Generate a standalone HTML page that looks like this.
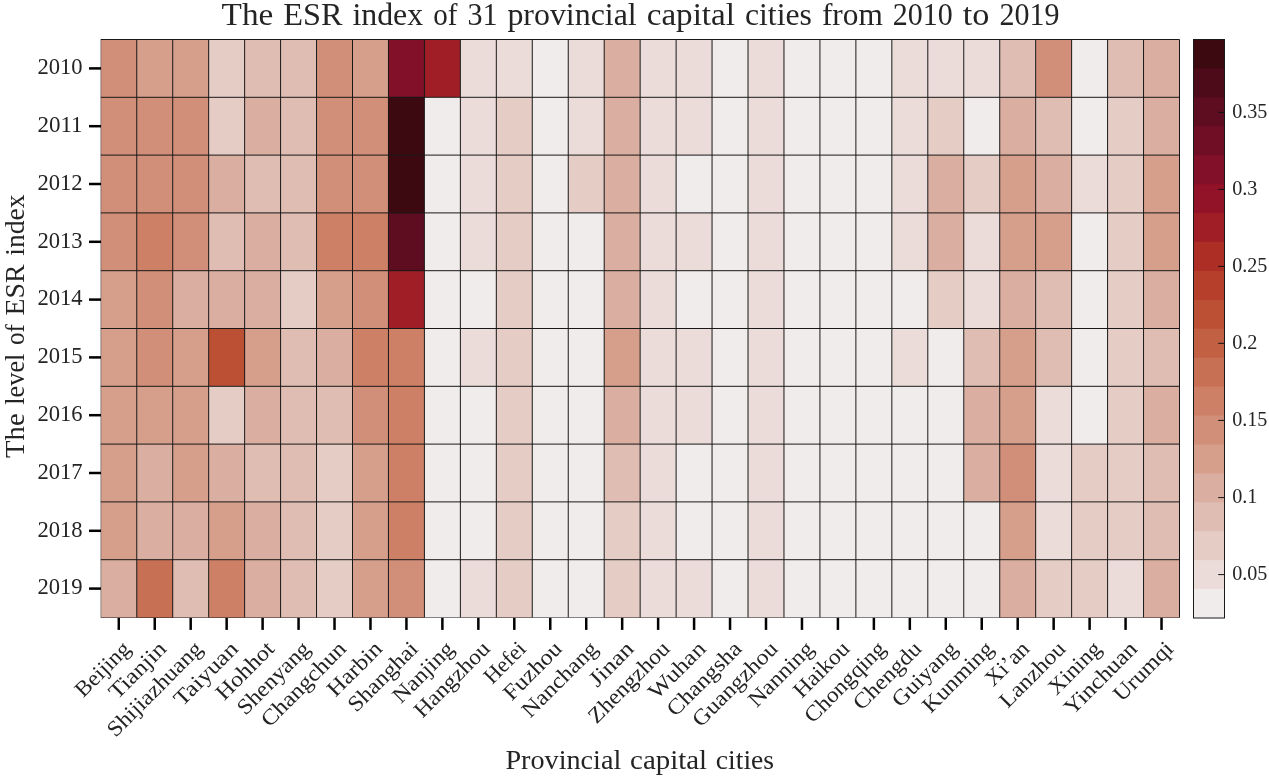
<!DOCTYPE html>
<html lang="en">
<head>
<meta charset="utf-8">
<title>The ESR index of 31 provincial capital cities from 2010 to 2019</title>
<style>
html,body{margin:0;padding:0;background:#fff;overflow:hidden}
svg{display:block;will-change:transform}
text{font-family:"Liberation Serif","DejaVu Serif",serif;fill:#242424}
</style>
</head>
<body>
<svg width="1269" height="777" viewBox="0 0 1269 777">
<rect width="1269" height="777" fill="#fff"/>
<text y="25" font-size="31"><tspan x="221.6" textLength="51.7" lengthAdjust="spacingAndGlyphs">The</tspan> <tspan x="283.3" textLength="59.2" lengthAdjust="spacingAndGlyphs">ESR</tspan> <tspan x="352.4" textLength="70.8" lengthAdjust="spacingAndGlyphs">index</tspan> <tspan x="433.3" textLength="24.2" lengthAdjust="spacingAndGlyphs">of</tspan> <tspan x="467.4" textLength="30.0" lengthAdjust="spacingAndGlyphs">31</tspan> <tspan x="507.4" textLength="129.3" lengthAdjust="spacingAndGlyphs">provincial</tspan> <tspan x="646.7" textLength="88.3" lengthAdjust="spacingAndGlyphs">capital</tspan> <tspan x="745.0" textLength="66.8" lengthAdjust="spacingAndGlyphs">cities</tspan> <tspan x="821.9" textLength="60.9" lengthAdjust="spacingAndGlyphs">from</tspan> <tspan x="892.8" textLength="60.0" lengthAdjust="spacingAndGlyphs">2010</tspan> <tspan x="962.8" textLength="26.7" lengthAdjust="spacingAndGlyphs">to</tspan> <tspan x="999.4" textLength="60.0" lengthAdjust="spacingAndGlyphs">2019</tspan></text>
<g shape-rendering="crispEdges">
<rect x="100.80" y="39.50" width="36.26" height="58.10" fill="#d18f79"/><rect x="136.76" y="39.50" width="36.26" height="58.10" fill="#d69f8c"/><rect x="172.71" y="39.50" width="36.26" height="58.10" fill="#d69f8c"/><rect x="208.67" y="39.50" width="36.26" height="58.10" fill="#e5cdc6"/><rect x="244.63" y="39.50" width="36.26" height="58.10" fill="#dfbdb3"/><rect x="280.58" y="39.50" width="36.26" height="58.10" fill="#dfbdb3"/><rect x="316.54" y="39.50" width="36.26" height="58.10" fill="#d18f79"/><rect x="352.50" y="39.50" width="36.26" height="58.10" fill="#d69f8c"/><rect x="388.45" y="39.50" width="36.26" height="58.10" fill="#811028"/><rect x="424.41" y="39.50" width="36.26" height="58.10" fill="#a01f26"/><rect x="460.37" y="39.50" width="36.26" height="58.10" fill="#ebdcd9"/><rect x="496.32" y="39.50" width="36.26" height="58.10" fill="#ebdcd9"/><rect x="532.28" y="39.50" width="36.26" height="58.10" fill="#f1ecec"/><rect x="568.24" y="39.50" width="36.26" height="58.10" fill="#ebdcd9"/><rect x="604.19" y="39.50" width="36.26" height="58.10" fill="#daaea0"/><rect x="640.15" y="39.50" width="36.26" height="58.10" fill="#ebdcd9"/><rect x="676.11" y="39.50" width="36.26" height="58.10" fill="#ebdcd9"/><rect x="712.06" y="39.50" width="36.26" height="58.10" fill="#f1ecec"/><rect x="748.02" y="39.50" width="36.26" height="58.10" fill="#ebdcd9"/><rect x="783.98" y="39.50" width="36.26" height="58.10" fill="#f1ecec"/><rect x="819.93" y="39.50" width="36.26" height="58.10" fill="#f1ecec"/><rect x="855.89" y="39.50" width="36.26" height="58.10" fill="#f1ecec"/><rect x="891.85" y="39.50" width="36.26" height="58.10" fill="#ebdcd9"/><rect x="927.80" y="39.50" width="36.26" height="58.10" fill="#ebdcd9"/><rect x="963.76" y="39.50" width="36.26" height="58.10" fill="#ebdcd9"/><rect x="999.72" y="39.50" width="36.26" height="58.10" fill="#dfbdb3"/><rect x="1035.67" y="39.50" width="36.26" height="58.10" fill="#d18f79"/><rect x="1071.63" y="39.50" width="36.26" height="58.10" fill="#f1ecec"/><rect x="1107.59" y="39.50" width="36.26" height="58.10" fill="#dfbdb3"/><rect x="1143.54" y="39.50" width="36.26" height="58.10" fill="#daaea0"/>
<rect x="100.80" y="97.30" width="36.26" height="58.10" fill="#d18f79"/><rect x="136.76" y="97.30" width="36.26" height="58.10" fill="#d18f79"/><rect x="172.71" y="97.30" width="36.26" height="58.10" fill="#d18f79"/><rect x="208.67" y="97.30" width="36.26" height="58.10" fill="#e5cdc6"/><rect x="244.63" y="97.30" width="36.26" height="58.10" fill="#daaea0"/><rect x="280.58" y="97.30" width="36.26" height="58.10" fill="#dfbdb3"/><rect x="316.54" y="97.30" width="36.26" height="58.10" fill="#d18f79"/><rect x="352.50" y="97.30" width="36.26" height="58.10" fill="#d18f79"/><rect x="388.45" y="97.30" width="36.26" height="58.10" fill="#3c0911"/><rect x="424.41" y="97.30" width="36.26" height="58.10" fill="#f1ecec"/><rect x="460.37" y="97.30" width="36.26" height="58.10" fill="#ebdcd9"/><rect x="496.32" y="97.30" width="36.26" height="58.10" fill="#e5cdc6"/><rect x="532.28" y="97.30" width="36.26" height="58.10" fill="#f1ecec"/><rect x="568.24" y="97.30" width="36.26" height="58.10" fill="#ebdcd9"/><rect x="604.19" y="97.30" width="36.26" height="58.10" fill="#daaea0"/><rect x="640.15" y="97.30" width="36.26" height="58.10" fill="#ebdcd9"/><rect x="676.11" y="97.30" width="36.26" height="58.10" fill="#ebdcd9"/><rect x="712.06" y="97.30" width="36.26" height="58.10" fill="#f1ecec"/><rect x="748.02" y="97.30" width="36.26" height="58.10" fill="#ebdcd9"/><rect x="783.98" y="97.30" width="36.26" height="58.10" fill="#f1ecec"/><rect x="819.93" y="97.30" width="36.26" height="58.10" fill="#f1ecec"/><rect x="855.89" y="97.30" width="36.26" height="58.10" fill="#f1ecec"/><rect x="891.85" y="97.30" width="36.26" height="58.10" fill="#ebdcd9"/><rect x="927.80" y="97.30" width="36.26" height="58.10" fill="#e5cdc6"/><rect x="963.76" y="97.30" width="36.26" height="58.10" fill="#f1ecec"/><rect x="999.72" y="97.30" width="36.26" height="58.10" fill="#daaea0"/><rect x="1035.67" y="97.30" width="36.26" height="58.10" fill="#dfbdb3"/><rect x="1071.63" y="97.30" width="36.26" height="58.10" fill="#f1ecec"/><rect x="1107.59" y="97.30" width="36.26" height="58.10" fill="#e5cdc6"/><rect x="1143.54" y="97.30" width="36.26" height="58.10" fill="#daaea0"/>
<rect x="100.80" y="155.10" width="36.26" height="58.10" fill="#d18f79"/><rect x="136.76" y="155.10" width="36.26" height="58.10" fill="#d18f79"/><rect x="172.71" y="155.10" width="36.26" height="58.10" fill="#d18f79"/><rect x="208.67" y="155.10" width="36.26" height="58.10" fill="#daaea0"/><rect x="244.63" y="155.10" width="36.26" height="58.10" fill="#dfbdb3"/><rect x="280.58" y="155.10" width="36.26" height="58.10" fill="#dfbdb3"/><rect x="316.54" y="155.10" width="36.26" height="58.10" fill="#d18f79"/><rect x="352.50" y="155.10" width="36.26" height="58.10" fill="#d18f79"/><rect x="388.45" y="155.10" width="36.26" height="58.10" fill="#3c0911"/><rect x="424.41" y="155.10" width="36.26" height="58.10" fill="#f1ecec"/><rect x="460.37" y="155.10" width="36.26" height="58.10" fill="#ebdcd9"/><rect x="496.32" y="155.10" width="36.26" height="58.10" fill="#e5cdc6"/><rect x="532.28" y="155.10" width="36.26" height="58.10" fill="#f1ecec"/><rect x="568.24" y="155.10" width="36.26" height="58.10" fill="#e5cdc6"/><rect x="604.19" y="155.10" width="36.26" height="58.10" fill="#daaea0"/><rect x="640.15" y="155.10" width="36.26" height="58.10" fill="#ebdcd9"/><rect x="676.11" y="155.10" width="36.26" height="58.10" fill="#f1ecec"/><rect x="712.06" y="155.10" width="36.26" height="58.10" fill="#f1ecec"/><rect x="748.02" y="155.10" width="36.26" height="58.10" fill="#ebdcd9"/><rect x="783.98" y="155.10" width="36.26" height="58.10" fill="#f1ecec"/><rect x="819.93" y="155.10" width="36.26" height="58.10" fill="#f1ecec"/><rect x="855.89" y="155.10" width="36.26" height="58.10" fill="#f1ecec"/><rect x="891.85" y="155.10" width="36.26" height="58.10" fill="#ebdcd9"/><rect x="927.80" y="155.10" width="36.26" height="58.10" fill="#daaea0"/><rect x="963.76" y="155.10" width="36.26" height="58.10" fill="#e5cdc6"/><rect x="999.72" y="155.10" width="36.26" height="58.10" fill="#d69f8c"/><rect x="1035.67" y="155.10" width="36.26" height="58.10" fill="#daaea0"/><rect x="1071.63" y="155.10" width="36.26" height="58.10" fill="#ebdcd9"/><rect x="1107.59" y="155.10" width="36.26" height="58.10" fill="#e5cdc6"/><rect x="1143.54" y="155.10" width="36.26" height="58.10" fill="#d69f8c"/>
<rect x="100.80" y="212.90" width="36.26" height="58.10" fill="#d18f79"/><rect x="136.76" y="212.90" width="36.26" height="58.10" fill="#cd8065"/><rect x="172.71" y="212.90" width="36.26" height="58.10" fill="#d18f79"/><rect x="208.67" y="212.90" width="36.26" height="58.10" fill="#dfbdb3"/><rect x="244.63" y="212.90" width="36.26" height="58.10" fill="#daaea0"/><rect x="280.58" y="212.90" width="36.26" height="58.10" fill="#dfbdb3"/><rect x="316.54" y="212.90" width="36.26" height="58.10" fill="#cd8065"/><rect x="352.50" y="212.90" width="36.26" height="58.10" fill="#cd8065"/><rect x="388.45" y="212.90" width="36.26" height="58.10" fill="#5e0d20"/><rect x="424.41" y="212.90" width="36.26" height="58.10" fill="#f1ecec"/><rect x="460.37" y="212.90" width="36.26" height="58.10" fill="#ebdcd9"/><rect x="496.32" y="212.90" width="36.26" height="58.10" fill="#e5cdc6"/><rect x="532.28" y="212.90" width="36.26" height="58.10" fill="#f1ecec"/><rect x="568.24" y="212.90" width="36.26" height="58.10" fill="#f1ecec"/><rect x="604.19" y="212.90" width="36.26" height="58.10" fill="#daaea0"/><rect x="640.15" y="212.90" width="36.26" height="58.10" fill="#ebdcd9"/><rect x="676.11" y="212.90" width="36.26" height="58.10" fill="#ebdcd9"/><rect x="712.06" y="212.90" width="36.26" height="58.10" fill="#f1ecec"/><rect x="748.02" y="212.90" width="36.26" height="58.10" fill="#ebdcd9"/><rect x="783.98" y="212.90" width="36.26" height="58.10" fill="#f1ecec"/><rect x="819.93" y="212.90" width="36.26" height="58.10" fill="#f1ecec"/><rect x="855.89" y="212.90" width="36.26" height="58.10" fill="#f1ecec"/><rect x="891.85" y="212.90" width="36.26" height="58.10" fill="#ebdcd9"/><rect x="927.80" y="212.90" width="36.26" height="58.10" fill="#daaea0"/><rect x="963.76" y="212.90" width="36.26" height="58.10" fill="#ebdcd9"/><rect x="999.72" y="212.90" width="36.26" height="58.10" fill="#d69f8c"/><rect x="1035.67" y="212.90" width="36.26" height="58.10" fill="#d69f8c"/><rect x="1071.63" y="212.90" width="36.26" height="58.10" fill="#f1ecec"/><rect x="1107.59" y="212.90" width="36.26" height="58.10" fill="#e5cdc6"/><rect x="1143.54" y="212.90" width="36.26" height="58.10" fill="#d69f8c"/>
<rect x="100.80" y="270.70" width="36.26" height="58.10" fill="#d69f8c"/><rect x="136.76" y="270.70" width="36.26" height="58.10" fill="#d18f79"/><rect x="172.71" y="270.70" width="36.26" height="58.10" fill="#daaea0"/><rect x="208.67" y="270.70" width="36.26" height="58.10" fill="#daaea0"/><rect x="244.63" y="270.70" width="36.26" height="58.10" fill="#daaea0"/><rect x="280.58" y="270.70" width="36.26" height="58.10" fill="#e5cdc6"/><rect x="316.54" y="270.70" width="36.26" height="58.10" fill="#d69f8c"/><rect x="352.50" y="270.70" width="36.26" height="58.10" fill="#d18f79"/><rect x="388.45" y="270.70" width="36.26" height="58.10" fill="#a01f26"/><rect x="424.41" y="270.70" width="36.26" height="58.10" fill="#f1ecec"/><rect x="460.37" y="270.70" width="36.26" height="58.10" fill="#f1ecec"/><rect x="496.32" y="270.70" width="36.26" height="58.10" fill="#e5cdc6"/><rect x="532.28" y="270.70" width="36.26" height="58.10" fill="#f1ecec"/><rect x="568.24" y="270.70" width="36.26" height="58.10" fill="#f1ecec"/><rect x="604.19" y="270.70" width="36.26" height="58.10" fill="#daaea0"/><rect x="640.15" y="270.70" width="36.26" height="58.10" fill="#ebdcd9"/><rect x="676.11" y="270.70" width="36.26" height="58.10" fill="#f1ecec"/><rect x="712.06" y="270.70" width="36.26" height="58.10" fill="#f1ecec"/><rect x="748.02" y="270.70" width="36.26" height="58.10" fill="#ebdcd9"/><rect x="783.98" y="270.70" width="36.26" height="58.10" fill="#f1ecec"/><rect x="819.93" y="270.70" width="36.26" height="58.10" fill="#f1ecec"/><rect x="855.89" y="270.70" width="36.26" height="58.10" fill="#f1ecec"/><rect x="891.85" y="270.70" width="36.26" height="58.10" fill="#f1ecec"/><rect x="927.80" y="270.70" width="36.26" height="58.10" fill="#e5cdc6"/><rect x="963.76" y="270.70" width="36.26" height="58.10" fill="#ebdcd9"/><rect x="999.72" y="270.70" width="36.26" height="58.10" fill="#daaea0"/><rect x="1035.67" y="270.70" width="36.26" height="58.10" fill="#dfbdb3"/><rect x="1071.63" y="270.70" width="36.26" height="58.10" fill="#f1ecec"/><rect x="1107.59" y="270.70" width="36.26" height="58.10" fill="#e5cdc6"/><rect x="1143.54" y="270.70" width="36.26" height="58.10" fill="#daaea0"/>
<rect x="100.80" y="328.50" width="36.26" height="58.10" fill="#d69f8c"/><rect x="136.76" y="328.50" width="36.26" height="58.10" fill="#d18f79"/><rect x="172.71" y="328.50" width="36.26" height="58.10" fill="#d69f8c"/><rect x="208.67" y="328.50" width="36.26" height="58.10" fill="#bc5034"/><rect x="244.63" y="328.50" width="36.26" height="58.10" fill="#d69f8c"/><rect x="280.58" y="328.50" width="36.26" height="58.10" fill="#dfbdb3"/><rect x="316.54" y="328.50" width="36.26" height="58.10" fill="#daaea0"/><rect x="352.50" y="328.50" width="36.26" height="58.10" fill="#cd8065"/><rect x="388.45" y="328.50" width="36.26" height="58.10" fill="#cd8065"/><rect x="424.41" y="328.50" width="36.26" height="58.10" fill="#f1ecec"/><rect x="460.37" y="328.50" width="36.26" height="58.10" fill="#ebdcd9"/><rect x="496.32" y="328.50" width="36.26" height="58.10" fill="#e5cdc6"/><rect x="532.28" y="328.50" width="36.26" height="58.10" fill="#f1ecec"/><rect x="568.24" y="328.50" width="36.26" height="58.10" fill="#f1ecec"/><rect x="604.19" y="328.50" width="36.26" height="58.10" fill="#d69f8c"/><rect x="640.15" y="328.50" width="36.26" height="58.10" fill="#ebdcd9"/><rect x="676.11" y="328.50" width="36.26" height="58.10" fill="#ebdcd9"/><rect x="712.06" y="328.50" width="36.26" height="58.10" fill="#f1ecec"/><rect x="748.02" y="328.50" width="36.26" height="58.10" fill="#ebdcd9"/><rect x="783.98" y="328.50" width="36.26" height="58.10" fill="#f1ecec"/><rect x="819.93" y="328.50" width="36.26" height="58.10" fill="#f1ecec"/><rect x="855.89" y="328.50" width="36.26" height="58.10" fill="#f1ecec"/><rect x="891.85" y="328.50" width="36.26" height="58.10" fill="#ebdcd9"/><rect x="927.80" y="328.50" width="36.26" height="58.10" fill="#f1ecec"/><rect x="963.76" y="328.50" width="36.26" height="58.10" fill="#dfbdb3"/><rect x="999.72" y="328.50" width="36.26" height="58.10" fill="#d69f8c"/><rect x="1035.67" y="328.50" width="36.26" height="58.10" fill="#dfbdb3"/><rect x="1071.63" y="328.50" width="36.26" height="58.10" fill="#f1ecec"/><rect x="1107.59" y="328.50" width="36.26" height="58.10" fill="#e5cdc6"/><rect x="1143.54" y="328.50" width="36.26" height="58.10" fill="#dfbdb3"/>
<rect x="100.80" y="386.30" width="36.26" height="58.10" fill="#d69f8c"/><rect x="136.76" y="386.30" width="36.26" height="58.10" fill="#d69f8c"/><rect x="172.71" y="386.30" width="36.26" height="58.10" fill="#d69f8c"/><rect x="208.67" y="386.30" width="36.26" height="58.10" fill="#e5cdc6"/><rect x="244.63" y="386.30" width="36.26" height="58.10" fill="#daaea0"/><rect x="280.58" y="386.30" width="36.26" height="58.10" fill="#dfbdb3"/><rect x="316.54" y="386.30" width="36.26" height="58.10" fill="#dfbdb3"/><rect x="352.50" y="386.30" width="36.26" height="58.10" fill="#d18f79"/><rect x="388.45" y="386.30" width="36.26" height="58.10" fill="#cd8065"/><rect x="424.41" y="386.30" width="36.26" height="58.10" fill="#f1ecec"/><rect x="460.37" y="386.30" width="36.26" height="58.10" fill="#f1ecec"/><rect x="496.32" y="386.30" width="36.26" height="58.10" fill="#e5cdc6"/><rect x="532.28" y="386.30" width="36.26" height="58.10" fill="#f1ecec"/><rect x="568.24" y="386.30" width="36.26" height="58.10" fill="#f1ecec"/><rect x="604.19" y="386.30" width="36.26" height="58.10" fill="#daaea0"/><rect x="640.15" y="386.30" width="36.26" height="58.10" fill="#ebdcd9"/><rect x="676.11" y="386.30" width="36.26" height="58.10" fill="#ebdcd9"/><rect x="712.06" y="386.30" width="36.26" height="58.10" fill="#f1ecec"/><rect x="748.02" y="386.30" width="36.26" height="58.10" fill="#ebdcd9"/><rect x="783.98" y="386.30" width="36.26" height="58.10" fill="#f1ecec"/><rect x="819.93" y="386.30" width="36.26" height="58.10" fill="#f1ecec"/><rect x="855.89" y="386.30" width="36.26" height="58.10" fill="#f1ecec"/><rect x="891.85" y="386.30" width="36.26" height="58.10" fill="#f1ecec"/><rect x="927.80" y="386.30" width="36.26" height="58.10" fill="#f1ecec"/><rect x="963.76" y="386.30" width="36.26" height="58.10" fill="#daaea0"/><rect x="999.72" y="386.30" width="36.26" height="58.10" fill="#d69f8c"/><rect x="1035.67" y="386.30" width="36.26" height="58.10" fill="#ebdcd9"/><rect x="1071.63" y="386.30" width="36.26" height="58.10" fill="#f1ecec"/><rect x="1107.59" y="386.30" width="36.26" height="58.10" fill="#e5cdc6"/><rect x="1143.54" y="386.30" width="36.26" height="58.10" fill="#daaea0"/>
<rect x="100.80" y="444.10" width="36.26" height="58.10" fill="#d69f8c"/><rect x="136.76" y="444.10" width="36.26" height="58.10" fill="#daaea0"/><rect x="172.71" y="444.10" width="36.26" height="58.10" fill="#d69f8c"/><rect x="208.67" y="444.10" width="36.26" height="58.10" fill="#daaea0"/><rect x="244.63" y="444.10" width="36.26" height="58.10" fill="#dfbdb3"/><rect x="280.58" y="444.10" width="36.26" height="58.10" fill="#dfbdb3"/><rect x="316.54" y="444.10" width="36.26" height="58.10" fill="#e5cdc6"/><rect x="352.50" y="444.10" width="36.26" height="58.10" fill="#d69f8c"/><rect x="388.45" y="444.10" width="36.26" height="58.10" fill="#cd8065"/><rect x="424.41" y="444.10" width="36.26" height="58.10" fill="#f1ecec"/><rect x="460.37" y="444.10" width="36.26" height="58.10" fill="#f1ecec"/><rect x="496.32" y="444.10" width="36.26" height="58.10" fill="#e5cdc6"/><rect x="532.28" y="444.10" width="36.26" height="58.10" fill="#f1ecec"/><rect x="568.24" y="444.10" width="36.26" height="58.10" fill="#f1ecec"/><rect x="604.19" y="444.10" width="36.26" height="58.10" fill="#dfbdb3"/><rect x="640.15" y="444.10" width="36.26" height="58.10" fill="#ebdcd9"/><rect x="676.11" y="444.10" width="36.26" height="58.10" fill="#f1ecec"/><rect x="712.06" y="444.10" width="36.26" height="58.10" fill="#f1ecec"/><rect x="748.02" y="444.10" width="36.26" height="58.10" fill="#ebdcd9"/><rect x="783.98" y="444.10" width="36.26" height="58.10" fill="#f1ecec"/><rect x="819.93" y="444.10" width="36.26" height="58.10" fill="#f1ecec"/><rect x="855.89" y="444.10" width="36.26" height="58.10" fill="#f1ecec"/><rect x="891.85" y="444.10" width="36.26" height="58.10" fill="#f1ecec"/><rect x="927.80" y="444.10" width="36.26" height="58.10" fill="#f1ecec"/><rect x="963.76" y="444.10" width="36.26" height="58.10" fill="#daaea0"/><rect x="999.72" y="444.10" width="36.26" height="58.10" fill="#d18f79"/><rect x="1035.67" y="444.10" width="36.26" height="58.10" fill="#ebdcd9"/><rect x="1071.63" y="444.10" width="36.26" height="58.10" fill="#e5cdc6"/><rect x="1107.59" y="444.10" width="36.26" height="58.10" fill="#e5cdc6"/><rect x="1143.54" y="444.10" width="36.26" height="58.10" fill="#dfbdb3"/>
<rect x="100.80" y="501.90" width="36.26" height="58.10" fill="#d69f8c"/><rect x="136.76" y="501.90" width="36.26" height="58.10" fill="#daaea0"/><rect x="172.71" y="501.90" width="36.26" height="58.10" fill="#daaea0"/><rect x="208.67" y="501.90" width="36.26" height="58.10" fill="#d69f8c"/><rect x="244.63" y="501.90" width="36.26" height="58.10" fill="#daaea0"/><rect x="280.58" y="501.90" width="36.26" height="58.10" fill="#dfbdb3"/><rect x="316.54" y="501.90" width="36.26" height="58.10" fill="#e5cdc6"/><rect x="352.50" y="501.90" width="36.26" height="58.10" fill="#d69f8c"/><rect x="388.45" y="501.90" width="36.26" height="58.10" fill="#cd8065"/><rect x="424.41" y="501.90" width="36.26" height="58.10" fill="#f1ecec"/><rect x="460.37" y="501.90" width="36.26" height="58.10" fill="#f1ecec"/><rect x="496.32" y="501.90" width="36.26" height="58.10" fill="#e5cdc6"/><rect x="532.28" y="501.90" width="36.26" height="58.10" fill="#f1ecec"/><rect x="568.24" y="501.90" width="36.26" height="58.10" fill="#f1ecec"/><rect x="604.19" y="501.90" width="36.26" height="58.10" fill="#e5cdc6"/><rect x="640.15" y="501.90" width="36.26" height="58.10" fill="#ebdcd9"/><rect x="676.11" y="501.90" width="36.26" height="58.10" fill="#f1ecec"/><rect x="712.06" y="501.90" width="36.26" height="58.10" fill="#f1ecec"/><rect x="748.02" y="501.90" width="36.26" height="58.10" fill="#ebdcd9"/><rect x="783.98" y="501.90" width="36.26" height="58.10" fill="#f1ecec"/><rect x="819.93" y="501.90" width="36.26" height="58.10" fill="#f1ecec"/><rect x="855.89" y="501.90" width="36.26" height="58.10" fill="#f1ecec"/><rect x="891.85" y="501.90" width="36.26" height="58.10" fill="#f1ecec"/><rect x="927.80" y="501.90" width="36.26" height="58.10" fill="#f1ecec"/><rect x="963.76" y="501.90" width="36.26" height="58.10" fill="#f1ecec"/><rect x="999.72" y="501.90" width="36.26" height="58.10" fill="#d69f8c"/><rect x="1035.67" y="501.90" width="36.26" height="58.10" fill="#ebdcd9"/><rect x="1071.63" y="501.90" width="36.26" height="58.10" fill="#e5cdc6"/><rect x="1107.59" y="501.90" width="36.26" height="58.10" fill="#e5cdc6"/><rect x="1143.54" y="501.90" width="36.26" height="58.10" fill="#dfbdb3"/>
<rect x="100.80" y="559.70" width="36.26" height="58.10" fill="#daaea0"/><rect x="136.76" y="559.70" width="36.26" height="58.10" fill="#c77054"/><rect x="172.71" y="559.70" width="36.26" height="58.10" fill="#dfbdb3"/><rect x="208.67" y="559.70" width="36.26" height="58.10" fill="#cd8065"/><rect x="244.63" y="559.70" width="36.26" height="58.10" fill="#daaea0"/><rect x="280.58" y="559.70" width="36.26" height="58.10" fill="#dfbdb3"/><rect x="316.54" y="559.70" width="36.26" height="58.10" fill="#e5cdc6"/><rect x="352.50" y="559.70" width="36.26" height="58.10" fill="#d69f8c"/><rect x="388.45" y="559.70" width="36.26" height="58.10" fill="#d18f79"/><rect x="424.41" y="559.70" width="36.26" height="58.10" fill="#f1ecec"/><rect x="460.37" y="559.70" width="36.26" height="58.10" fill="#ebdcd9"/><rect x="496.32" y="559.70" width="36.26" height="58.10" fill="#e5cdc6"/><rect x="532.28" y="559.70" width="36.26" height="58.10" fill="#f1ecec"/><rect x="568.24" y="559.70" width="36.26" height="58.10" fill="#f1ecec"/><rect x="604.19" y="559.70" width="36.26" height="58.10" fill="#e5cdc6"/><rect x="640.15" y="559.70" width="36.26" height="58.10" fill="#ebdcd9"/><rect x="676.11" y="559.70" width="36.26" height="58.10" fill="#ebdcd9"/><rect x="712.06" y="559.70" width="36.26" height="58.10" fill="#f1ecec"/><rect x="748.02" y="559.70" width="36.26" height="58.10" fill="#ebdcd9"/><rect x="783.98" y="559.70" width="36.26" height="58.10" fill="#f1ecec"/><rect x="819.93" y="559.70" width="36.26" height="58.10" fill="#f1ecec"/><rect x="855.89" y="559.70" width="36.26" height="58.10" fill="#f1ecec"/><rect x="891.85" y="559.70" width="36.26" height="58.10" fill="#f1ecec"/><rect x="927.80" y="559.70" width="36.26" height="58.10" fill="#f1ecec"/><rect x="963.76" y="559.70" width="36.26" height="58.10" fill="#f1ecec"/><rect x="999.72" y="559.70" width="36.26" height="58.10" fill="#daaea0"/><rect x="1035.67" y="559.70" width="36.26" height="58.10" fill="#e5cdc6"/><rect x="1071.63" y="559.70" width="36.26" height="58.10" fill="#e5cdc6"/><rect x="1107.59" y="559.70" width="36.26" height="58.10" fill="#ebdcd9"/><rect x="1143.54" y="559.70" width="36.26" height="58.10" fill="#daaea0"/>
</g>
<g stroke="#181818" stroke-width="1" fill="none">
<line x1="100.80" y1="39.5" x2="100.80" y2="617.5" stroke-opacity="0.45"/><line x1="136.76" y1="39.5" x2="136.76" y2="617.5"/><line x1="172.71" y1="39.5" x2="172.71" y2="617.5"/><line x1="208.67" y1="39.5" x2="208.67" y2="617.5"/><line x1="244.63" y1="39.5" x2="244.63" y2="617.5"/><line x1="280.58" y1="39.5" x2="280.58" y2="617.5"/><line x1="316.54" y1="39.5" x2="316.54" y2="617.5"/><line x1="352.50" y1="39.5" x2="352.50" y2="617.5"/><line x1="388.45" y1="39.5" x2="388.45" y2="617.5"/><line x1="424.41" y1="39.5" x2="424.41" y2="617.5"/><line x1="460.37" y1="39.5" x2="460.37" y2="617.5"/><line x1="496.32" y1="39.5" x2="496.32" y2="617.5"/><line x1="532.28" y1="39.5" x2="532.28" y2="617.5"/><line x1="568.24" y1="39.5" x2="568.24" y2="617.5"/><line x1="604.19" y1="39.5" x2="604.19" y2="617.5"/><line x1="640.15" y1="39.5" x2="640.15" y2="617.5"/><line x1="676.11" y1="39.5" x2="676.11" y2="617.5"/><line x1="712.06" y1="39.5" x2="712.06" y2="617.5"/><line x1="748.02" y1="39.5" x2="748.02" y2="617.5"/><line x1="783.98" y1="39.5" x2="783.98" y2="617.5"/><line x1="819.93" y1="39.5" x2="819.93" y2="617.5"/><line x1="855.89" y1="39.5" x2="855.89" y2="617.5"/><line x1="891.85" y1="39.5" x2="891.85" y2="617.5"/><line x1="927.80" y1="39.5" x2="927.80" y2="617.5"/><line x1="963.76" y1="39.5" x2="963.76" y2="617.5"/><line x1="999.72" y1="39.5" x2="999.72" y2="617.5"/><line x1="1035.67" y1="39.5" x2="1035.67" y2="617.5"/><line x1="1071.63" y1="39.5" x2="1071.63" y2="617.5"/><line x1="1107.59" y1="39.5" x2="1107.59" y2="617.5"/><line x1="1143.54" y1="39.5" x2="1143.54" y2="617.5"/><line x1="1179.50" y1="39.5" x2="1179.50" y2="617.5"/>
<line x1="100.8" y1="39.50" x2="1179.5" y2="39.50"/><line x1="100.8" y1="97.30" x2="1179.5" y2="97.30"/><line x1="100.8" y1="155.10" x2="1179.5" y2="155.10"/><line x1="100.8" y1="212.90" x2="1179.5" y2="212.90"/><line x1="100.8" y1="270.70" x2="1179.5" y2="270.70"/><line x1="100.8" y1="328.50" x2="1179.5" y2="328.50"/><line x1="100.8" y1="386.30" x2="1179.5" y2="386.30"/><line x1="100.8" y1="444.10" x2="1179.5" y2="444.10"/><line x1="100.8" y1="501.90" x2="1179.5" y2="501.90"/><line x1="100.8" y1="559.70" x2="1179.5" y2="559.70"/><line x1="100.8" y1="617.50" x2="1179.5" y2="617.50" stroke-opacity="0.5"/>
</g>
<g stroke="#000" stroke-width="2.5">
<line x1="89" y1="68.40" x2="101.0" y2="68.40"/><line x1="89" y1="126.20" x2="101.0" y2="126.20"/><line x1="89" y1="184.00" x2="101.0" y2="184.00"/><line x1="89" y1="241.80" x2="101.0" y2="241.80"/><line x1="89" y1="299.60" x2="101.0" y2="299.60"/><line x1="89" y1="357.40" x2="101.0" y2="357.40"/><line x1="89" y1="415.20" x2="101.0" y2="415.20"/><line x1="89" y1="473.00" x2="101.0" y2="473.00"/><line x1="89" y1="530.80" x2="101.0" y2="530.80"/><line x1="89" y1="588.60" x2="101.0" y2="588.60"/>
<line x1="118.78" y1="617.9" x2="118.78" y2="629.9"/><line x1="154.74" y1="617.9" x2="154.74" y2="629.9"/><line x1="190.69" y1="617.9" x2="190.69" y2="629.9"/><line x1="226.65" y1="617.9" x2="226.65" y2="629.9"/><line x1="262.61" y1="617.9" x2="262.61" y2="629.9"/><line x1="298.56" y1="617.9" x2="298.56" y2="629.9"/><line x1="334.52" y1="617.9" x2="334.52" y2="629.9"/><line x1="370.48" y1="617.9" x2="370.48" y2="629.9"/><line x1="406.43" y1="617.9" x2="406.43" y2="629.9"/><line x1="442.39" y1="617.9" x2="442.39" y2="629.9"/><line x1="478.35" y1="617.9" x2="478.35" y2="629.9"/><line x1="514.30" y1="617.9" x2="514.30" y2="629.9"/><line x1="550.26" y1="617.9" x2="550.26" y2="629.9"/><line x1="586.22" y1="617.9" x2="586.22" y2="629.9"/><line x1="622.17" y1="617.9" x2="622.17" y2="629.9"/><line x1="658.13" y1="617.9" x2="658.13" y2="629.9"/><line x1="694.09" y1="617.9" x2="694.09" y2="629.9"/><line x1="730.04" y1="617.9" x2="730.04" y2="629.9"/><line x1="766.00" y1="617.9" x2="766.00" y2="629.9"/><line x1="801.96" y1="617.9" x2="801.96" y2="629.9"/><line x1="837.91" y1="617.9" x2="837.91" y2="629.9"/><line x1="873.87" y1="617.9" x2="873.87" y2="629.9"/><line x1="909.83" y1="617.9" x2="909.83" y2="629.9"/><line x1="945.78" y1="617.9" x2="945.78" y2="629.9"/><line x1="981.74" y1="617.9" x2="981.74" y2="629.9"/><line x1="1017.70" y1="617.9" x2="1017.70" y2="629.9"/><line x1="1053.65" y1="617.9" x2="1053.65" y2="629.9"/><line x1="1089.61" y1="617.9" x2="1089.61" y2="629.9"/><line x1="1125.57" y1="617.9" x2="1125.57" y2="629.9"/><line x1="1161.52" y1="617.9" x2="1161.52" y2="629.9"/>
</g>
<g font-size="23" text-anchor="end">
<text x="82.6" y="74.2" textLength="45.2" lengthAdjust="spacingAndGlyphs">2010</text>
<text x="82.6" y="132.0" textLength="45.2" lengthAdjust="spacingAndGlyphs">2011</text>
<text x="82.6" y="189.8" textLength="45.2" lengthAdjust="spacingAndGlyphs">2012</text>
<text x="82.6" y="247.6" textLength="45.2" lengthAdjust="spacingAndGlyphs">2013</text>
<text x="82.6" y="305.4" textLength="45.2" lengthAdjust="spacingAndGlyphs">2014</text>
<text x="82.6" y="363.2" textLength="45.2" lengthAdjust="spacingAndGlyphs">2015</text>
<text x="82.6" y="421.0" textLength="45.2" lengthAdjust="spacingAndGlyphs">2016</text>
<text x="82.6" y="478.8" textLength="45.2" lengthAdjust="spacingAndGlyphs">2017</text>
<text x="82.6" y="536.6" textLength="45.2" lengthAdjust="spacingAndGlyphs">2018</text>
<text x="82.6" y="594.4" textLength="45.2" lengthAdjust="spacingAndGlyphs">2019</text>
</g>
<g font-size="22" text-anchor="end">
<text transform="translate(131.7,650.0) rotate(-45)" textLength="68.4" lengthAdjust="spacingAndGlyphs">Beijing</text>
<text transform="translate(167.6,650.0) rotate(-45)" textLength="71.2" lengthAdjust="spacingAndGlyphs">Tianjin</text>
<text transform="translate(203.6,650.0) rotate(-45)" textLength="124.5" lengthAdjust="spacingAndGlyphs">Shijiazhuang</text>
<text transform="translate(239.5,650.0) rotate(-45)" textLength="81.1" lengthAdjust="spacingAndGlyphs">Taiyuan</text>
<text transform="translate(275.5,650.0) rotate(-45)" textLength="72.5" lengthAdjust="spacingAndGlyphs">Hohhot</text>
<text transform="translate(311.5,650.0) rotate(-45)" textLength="93.5" lengthAdjust="spacingAndGlyphs">Shenyang</text>
<text transform="translate(347.4,650.0) rotate(-45)" textLength="110.3" lengthAdjust="spacingAndGlyphs">Changchun</text>
<text transform="translate(383.4,650.0) rotate(-45)" textLength="67.6" lengthAdjust="spacingAndGlyphs">Harbin</text>
<text transform="translate(419.3,650.0) rotate(-45)" textLength="89.2" lengthAdjust="spacingAndGlyphs">Shanghai</text>
<text transform="translate(455.3,650.0) rotate(-45)" textLength="76.8" lengthAdjust="spacingAndGlyphs">Nanjing</text>
<text transform="translate(491.2,650.0) rotate(-45)" textLength="97.3" lengthAdjust="spacingAndGlyphs">Hangzhou</text>
<text transform="translate(527.2,650.0) rotate(-45)" textLength="49.6" lengthAdjust="spacingAndGlyphs">Hefei</text>
<text transform="translate(563.2,650.0) rotate(-45)" textLength="72.8" lengthAdjust="spacingAndGlyphs">Fuzhou</text>
<text transform="translate(599.1,650.0) rotate(-45)" textLength="97.3" lengthAdjust="spacingAndGlyphs">Nanchang</text>
<text transform="translate(635.1,650.0) rotate(-45)" textLength="53.6" lengthAdjust="spacingAndGlyphs">Jinan</text>
<text transform="translate(671.0,650.0) rotate(-45)" textLength="105.3" lengthAdjust="spacingAndGlyphs">Zhengzhou</text>
<text transform="translate(707.0,650.0) rotate(-45)" textLength="71.2" lengthAdjust="spacingAndGlyphs">Wuhan</text>
<text transform="translate(742.9,650.0) rotate(-45)" textLength="95.5" lengthAdjust="spacingAndGlyphs">Changsha</text>
<text transform="translate(778.9,650.0) rotate(-45)" textLength="110.4" lengthAdjust="spacingAndGlyphs">Guangzhou</text>
<text transform="translate(814.9,650.0) rotate(-45)" textLength="82.4" lengthAdjust="spacingAndGlyphs">Nanning</text>
<text transform="translate(850.8,650.0) rotate(-45)" textLength="69.4" lengthAdjust="spacingAndGlyphs">Haikou</text>
<text transform="translate(886.8,650.0) rotate(-45)" textLength="104.7" lengthAdjust="spacingAndGlyphs">Chongqing</text>
<text transform="translate(922.7,650.0) rotate(-45)" textLength="86.7" lengthAdjust="spacingAndGlyphs">Chengdu</text>
<text transform="translate(958.7,650.0) rotate(-45)" textLength="82.5" lengthAdjust="spacingAndGlyphs">Guiyang</text>
<text transform="translate(994.6,650.0) rotate(-45)" textLength="90.4" lengthAdjust="spacingAndGlyphs">Kunming</text>
<text transform="translate(1030.6,650.0) rotate(-45)" textLength="52.7" lengthAdjust="spacingAndGlyphs">Xi’an</text>
<text transform="translate(1066.6,650.0) rotate(-45)" textLength="83.3" lengthAdjust="spacingAndGlyphs">Lanzhou</text>
<text transform="translate(1102.5,650.0) rotate(-45)" textLength="65.0" lengthAdjust="spacingAndGlyphs">Xining</text>
<text transform="translate(1138.5,650.0) rotate(-45)" textLength="93.5" lengthAdjust="spacingAndGlyphs">Yinchuan</text>
<text transform="translate(1174.4,650.0) rotate(-45)" textLength="74.4" lengthAdjust="spacingAndGlyphs">Urumqi</text>
</g>
<text y="768.6" font-size="27.5"><tspan x="505.4" textLength="115.9" lengthAdjust="spacingAndGlyphs">Provincial</tspan> <tspan x="630.1" textLength="77.0" lengthAdjust="spacingAndGlyphs">capital</tspan> <tspan x="715.8" textLength="58.3" lengthAdjust="spacingAndGlyphs">cities</tspan></text>
<text transform="translate(24.0,457.9) rotate(-90)" y="0" font-size="27.5"><tspan x="0.0" textLength="44.6" lengthAdjust="spacingAndGlyphs">The</tspan> <tspan x="53.2" textLength="51.1" lengthAdjust="spacingAndGlyphs">level</tspan> <tspan x="112.9" textLength="20.9" lengthAdjust="spacingAndGlyphs">of</tspan> <tspan x="142.4" textLength="51.1" lengthAdjust="spacingAndGlyphs">ESR</tspan> <tspan x="202.2" textLength="61.2" lengthAdjust="spacingAndGlyphs">index</tspan></text>
<g>
<rect x="1193" y="39.50" width="32" height="578.50" fill="#3c0911"/><rect x="1193" y="68.42" width="32" height="549.58" fill="#4d0b19"/><rect x="1193" y="97.35" width="32" height="520.65" fill="#5e0d20"/><rect x="1193" y="126.28" width="32" height="491.73" fill="#700e26"/><rect x="1193" y="155.20" width="32" height="462.80" fill="#811028"/><rect x="1193" y="184.12" width="32" height="433.88" fill="#921227"/><rect x="1193" y="213.05" width="32" height="404.95" fill="#a01f26"/><rect x="1193" y="241.97" width="32" height="376.02" fill="#ad2e25"/><rect x="1193" y="270.90" width="32" height="347.10" fill="#b53f2b"/><rect x="1193" y="299.82" width="32" height="318.18" fill="#bc5034"/><rect x="1193" y="328.75" width="32" height="289.25" fill="#c26044"/><rect x="1193" y="357.68" width="32" height="260.32" fill="#c77054"/><rect x="1193" y="386.60" width="32" height="231.40" fill="#cd8065"/><rect x="1193" y="415.53" width="32" height="202.47" fill="#d18f79"/><rect x="1193" y="444.45" width="32" height="173.55" fill="#d69f8c"/><rect x="1193" y="473.38" width="32" height="144.62" fill="#daaea0"/><rect x="1193" y="502.30" width="32" height="115.70" fill="#dfbdb3"/><rect x="1193" y="531.23" width="32" height="86.77" fill="#e5cdc6"/><rect x="1193" y="560.15" width="32" height="57.85" fill="#ebdcd9"/><rect x="1193" y="589.08" width="32" height="28.92" fill="#f1ecec"/>
</g>
<rect x="1193.5" y="39.5" width="31.0" height="578.5" fill="none" stroke="#1a1a1a" stroke-width="1"/>
<g stroke="#111" stroke-width="1">
<line x1="1218.2" y1="574.6" x2="1224.5" y2="574.6"/><line x1="1218.2" y1="497.6" x2="1224.5" y2="497.6"/><line x1="1218.2" y1="420.4" x2="1224.5" y2="420.4"/><line x1="1218.2" y1="343.3" x2="1224.5" y2="343.3"/><line x1="1218.2" y1="266.4" x2="1224.5" y2="266.4"/><line x1="1218.2" y1="189.4" x2="1224.5" y2="189.4"/><line x1="1218.2" y1="112.4" x2="1224.5" y2="112.4"/>
</g>
<g font-size="20">
<text x="1232.2" y="580.3" textLength="35.2" lengthAdjust="spacingAndGlyphs">0.05</text>
<text x="1232.2" y="503.3" textLength="25.3" lengthAdjust="spacingAndGlyphs">0.1</text>
<text x="1232.2" y="426.1" textLength="35.2" lengthAdjust="spacingAndGlyphs">0.15</text>
<text x="1232.2" y="349.0" textLength="25.3" lengthAdjust="spacingAndGlyphs">0.2</text>
<text x="1232.2" y="272.1" textLength="35.2" lengthAdjust="spacingAndGlyphs">0.25</text>
<text x="1232.2" y="195.1" textLength="25.3" lengthAdjust="spacingAndGlyphs">0.3</text>
<text x="1232.2" y="118.1" textLength="35.2" lengthAdjust="spacingAndGlyphs">0.35</text>
</g>
</svg>
</body>
</html>
